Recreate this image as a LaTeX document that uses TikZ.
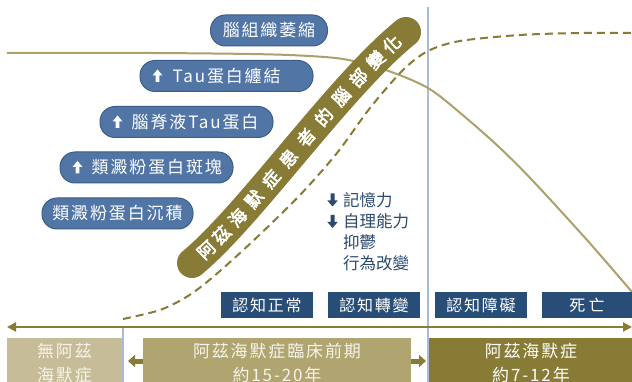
\documentclass[tikz,border=0pt]{standalone}
\usepackage{fontspec}
\usetikzlibrary{arrows.meta}
\newfontfamily\cjk{Noto Sans CJK TC}
\newfontfamily\cjkbf{Noto Sans CJK TC}[FakeBold=3]
\newfontfamily\cjksp{Noto Sans CJK TC}[LetterSpace=11]
\newfontfamily\cjkwide{Noto Sans CJK TC}[LetterSpace=20]
\definecolor{pillblue}{HTML}{5176A6}
\definecolor{pillborder}{HTML}{3B5C88}
\definecolor{darkblue}{HTML}{284E78}
\definecolor{olive}{HTML}{877B35}
\definecolor{tan}{HTML}{ACA16B}
\definecolor{boxlight}{HTML}{C6BC98}
\definecolor{boxmid}{HTML}{B0A570}
\definecolor{vline}{HTML}{A8BCD8}
\definecolor{listblue}{HTML}{2C4A70}
\definecolor{cream}{HTML}{F7F4EA}
\tikzset{
  pill/.style={draw=pillborder, line width=1pt, fill=pillblue, rounded corners=15pt,
    minimum height=31pt, inner sep=0pt, text=white, font=\cjksp\fontsize{17}{20}\selectfont},
  pilltext/.style={text=white, inner sep=0pt, anchor=west, font=\cjksp\fontsize{17}{20}\selectfont},
  bluebox/.style={fill=darkblue, text=white, minimum height=26pt, inner sep=0pt,
    font=\cjksp\fontsize{16}{19}\selectfont},
  stagebox/.style={minimum height=50pt, inner sep=0pt, anchor=north, align=center,
    font=\cjksp\fontsize{17}{23.5}\selectfont},
  listtext/.style={text=listblue, inner sep=0pt, anchor=west, font=\cjk\fontsize{16.5}{20}\selectfont},
  bannertext/.style={text=white, inner sep=0pt, sloped, font=\cjkbf\fontsize{17.5}{19}\selectfont},
  uparr/.pic={\fill (0,-6.5) -- (5,-0.5) -- (1.9,-0.5) -- (1.9,6) -- (-1.9,6) -- (-1.9,-0.5) -- (-5,-0.5) -- cycle;},
  downarr/.pic={\fill (0,6.5) -- (5.2,0.5) -- (2,0.5) -- (2,-6.5) -- (-2,-6.5) -- (-2,0.5) -- (-5.2,0.5) -- cycle;},
  blockarrow/.style={draw=olive, line width=5pt, -{Triangle[length=7pt,width=12pt]}},
}
\begin{document}
\begin{tikzpicture}[x=1pt,y=-1pt]
\useasboundingbox (0,0) rectangle (632,382);
\fill[white] (0,0) rectangle (632,382);

% vertical separators
\draw[vline, line width=1.5pt] (428,7) -- (428,382);

% solid decline curve
\draw[tan, line width=2pt] plot[smooth, tension=0.5] coordinates
  {(7,53) (150,53) (250,54) (300,55.5) (343,59) (383,69) (428,88) (465,117) (500,148) (533,181) (587,240) (632,292)};

% dashed rise curve
\draw[olive, line width=2pt, dash pattern=on 8pt off 5pt] plot[smooth, tension=0.5] coordinates
  {(123,319) (160,310) (188,296) (213,277) (253,241) (300,195) (337,153) (370,108) (403,70) (428,51) (460,41) (520,35) (580,33) (632,33)};

% banner
\draw[olive, line width=30pt, line cap=round] (192,263) .. controls (250,215) and (340,85) .. (406,32);
\path (192,263) .. controls (250,215) and (340,85) .. (406,32)
  node[bannertext, pos=0.080] (b1) {阿}
  node[bannertext, pos=0.157] (b2) {茲}
  node[bannertext, pos=0.235] (b3) {海}
  node[bannertext, pos=0.312] (b4) {默}
  node[bannertext, pos=0.389] (b5) {症}
  node[bannertext, pos=0.466] (b6) {患}
  node[bannertext, pos=0.544] (b7) {者}
  node[bannertext, pos=0.621] (b8) {的}
  node[bannertext, pos=0.698] (b9) {腦}
  node[bannertext, pos=0.775] (b10) {部}
  node[bannertext, pos=0.853] (b11) {變}
  node[bannertext, pos=0.930] (b12) {化};

% pills
\node[pill, minimum width=117pt] (p1) at (269,30.5) {腦組織萎縮};
\node[pill, minimum width=173pt] (p2) at (226.5,76) {};
\node[pilltext] (p2t) at ([xshift=33pt]p2.west) {Tau蛋白纏結};
\pic[white] at ([xshift=18pt]p2.west) {uparr};
\node[pill, minimum width=173pt] (p3) at (186.5,122) {};
\node[pilltext] (p3t) at ([xshift=32pt]p3.west) {腦脊液Tau蛋白};
\pic[white] at ([xshift=18pt]p3.west) {uparr};
\node[pill, minimum width=173pt] (p4) at (146.5,167.5) {};
\node[pilltext] (p4t) at ([xshift=32pt]p4.west) {類澱粉蛋白斑塊};
\pic[white] at ([xshift=18pt]p4.west) {uparr};
\node[pill, minimum width=151pt] (p5) at (117.5,213.5) {類澱粉蛋白沉積};

% symptom list
\node[listtext] (l1) at (343,200) {記憶力};
\pic[listblue] at (332.5,200) {downarr};
\node[listtext] (l2) at (343,221.5) {自理能力};
\pic[listblue] at (332.5,221.5) {downarr};
\node[listtext] (l3) at (343,242) {抑鬱};
\node[listtext] (l4) at (343,263) {行為改變};

% cognitive state boxes
\node[bluebox, minimum width=92pt] (c1) at (267,305) {認知正常};
\node[bluebox, minimum width=92pt] (c2) at (374,305) {認知轉變};
\node[bluebox, minimum width=92pt] (c3) at (481,305) {認知障礙};
\node[bluebox, minimum width=90pt, font=\cjkwide\fontsize{16}{19}\selectfont] (c4) at (587,305) {死亡};

% timeline
\coordinate (tl) at (7,327);
\coordinate (tr) at (632,327);
\draw[olive, line width=2pt, {Triangle[length=9pt,width=9pt]}-{Triangle[length=9pt,width=9pt]}] (tl) -- (tr);
\draw[vline, line width=1.5pt] (123,328) -- (123,382);

% stage boxes
\node[stagebox, fill=boxlight, text=cream, minimum width=115pt] (s1) at (64.5,338) {無阿茲\\海默症};
\node[stagebox, fill=boxmid, text=cream, minimum width=268pt] (s2) at (277,338) {阿茲海默症臨床前期\\約15-20年};
\node[stagebox, fill=olive, text=white, minimum width=204pt] (s3) at (531,338) {阿茲海默症\\約7-12年};

% small arrows
\coordinate (a1) at (128,361);
\coordinate (a2) at (426,361);
\draw[blockarrow] (s2.west |- a1) -- (a1);
\draw[blockarrow] (s2.east |- a2) -- (a2);
\end{tikzpicture}
\end{document}
